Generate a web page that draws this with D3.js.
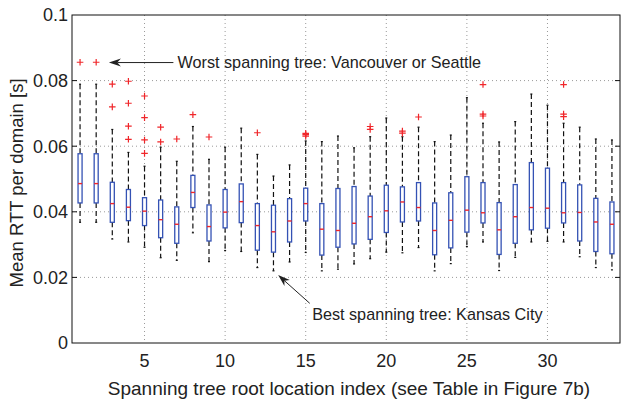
<!DOCTYPE html>
<html>
<head>
<meta charset="utf-8">
<script src="https://cdn.jsdelivr.net/npm/d3@7"></script>
<style>
  body { margin: 0; background: #fff; }
  text { font-family: "Liberation Sans", Arial, sans-serif; fill: #222; }
</style>
</head>
<body>
<div id="chart"></div>
<script>
// root location index 1..34
const rootIndex = d3.range(1, 35);

const whiskerHigh = [0.0789,0.0789,0.0651,0.0581,0.0539,0.0597,0.0554,0.0660,0.0560,0.0597,0.0655,0.0575,0.0509,0.0543,0.0616,0.0614,0.0631,0.0595,0.0629,0.0686,0.0629,0.0658,0.0614,0.0634,0.0748,0.0670,0.0613,0.0675,0.0759,0.0725,0.0670,0.0658,0.0622,0.0619];
const q3 = [0.0577,0.0577,0.0490,0.0468,0.0443,0.0436,0.0415,0.0511,0.0421,0.0468,0.0485,0.0425,0.0420,0.0440,0.0472,0.0425,0.0471,0.0477,0.0448,0.0481,0.0476,0.0489,0.0427,0.0458,0.0507,0.0489,0.0428,0.0483,0.0550,0.0533,0.0489,0.0482,0.0441,0.0430];
const median = [0.0486,0.0486,0.0425,0.0414,0.0402,0.0376,0.0362,0.0459,0.0355,0.0399,0.0431,0.0358,0.0339,0.0372,0.0425,0.0347,0.0343,0.0365,0.0385,0.0403,0.0430,0.0413,0.0343,0.0374,0.0405,0.0397,0.0345,0.0385,0.0413,0.0411,0.0397,0.0398,0.0369,0.0362];
const q1 = [0.0427,0.0427,0.0368,0.0373,0.0358,0.0321,0.0304,0.0413,0.0311,0.0351,0.0367,0.0283,0.0277,0.0308,0.0372,0.0268,0.0292,0.0302,0.0316,0.0337,0.0369,0.0372,0.0269,0.0290,0.0338,0.0366,0.0270,0.0304,0.0345,0.0350,0.0366,0.0311,0.0279,0.0272];
const whiskerLow = [0.0368,0.0368,0.0317,0.0308,0.0292,0.0260,0.0252,0.0336,0.0248,0.0282,0.0279,0.0230,0.0220,0.0247,0.0276,0.0220,0.0225,0.0241,0.0257,0.0277,0.0275,0.0291,0.0220,0.0242,0.0294,0.0308,0.0221,0.0261,0.0308,0.0310,0.0308,0.0263,0.0230,0.0223];
const outliers = [
    [0.0856], [0.0856], [0.0789, 0.0720], [0.0798, 0.0731, 0.0661, 0.0621],
    [0.0753, 0.0687, 0.0619, 0.0578], [0.0658, 0.0613], [0.0622], [0.0696],
    [0.0628], [], [], [0.0641], [], [], [0.0639, 0.0635, 0.0631], [], [], [],
    [0.0660, 0.0651], [], [0.0646, 0.0640], [0.0689], [], [], [],
    [0.0788, 0.0698, 0.0692], [], [], [], [], [0.0788, 0.0698, 0.0690], [], [], []
];

const xTicks = [5, 10, 15, 20, 25, 30];
const yTicks = [0, 0.02, 0.04, 0.06, 0.08, 0.1];

const W = 621, H = 399;
const margin = { top: 15, right: 1, bottom: 56, left: 72 };
const width = W - margin.left - margin.right,
    height = H - margin.top - margin.bottom;

const svg = d3.select("#chart").append("svg")
    .attr("width", W)
    .attr("height", H);

const g = svg.append("g")
    .attr("transform", "translate(" + margin.left + "," + margin.top + ")");

const x = d3.scaleLinear().domain([0.5, 34.5]).range([0, width]);
const y = d3.scaleLinear().domain([0, 0.1]).range([height, 0]);

const boxW = x(1.25) - x(1),
    capW = boxW * 0.5;

// grid
g.append("g").selectAll("line")
    .data(xTicks).enter().append("line")
    .attr("x1", d => x(d)).attr("x2", d => x(d))
    .attr("y1", 0).attr("y2", height)
    .attr("stroke", "#9a9a9a").attr("stroke-width", 1)
    .attr("stroke-dasharray", "1,3");
g.append("g").selectAll("line")
    .data(yTicks.slice(1, -1)).enter().append("line")
    .attr("x1", 0).attr("x2", width)
    .attr("y1", d => y(d)).attr("y2", d => y(d))
    .attr("stroke", "#9a9a9a").attr("stroke-width", 1)
    .attr("stroke-dasharray", "1,3");

// boxes
const boxes = rootIndex.map((k, i) => ({
    k: k, hi: whiskerHigh[i], q3: q3[i], med: median[i], q1: q1[i], lo: whiskerLow[i], out: outliers[i]
}));

const node = g.selectAll(".box")
    .data(boxes).enter().append("g")
    .attr("class", "box")
    .attr("transform", d => "translate(" + x(d.k) + ",0)");

// whiskers
node.append("line")
    .attr("y1", d => y(d.hi)).attr("y2", d => y(d.q3))
    .attr("stroke", "#111").attr("stroke-width", 1.2)
    .attr("stroke-dasharray", "5,3");
node.append("line")
    .attr("y1", d => y(d.q1)).attr("y2", d => y(d.lo))
    .attr("stroke", "#111").attr("stroke-width", 1.2)
    .attr("stroke-dasharray", "5,3");
node.append("line")
    .attr("x1", -capW / 2).attr("x2", capW / 2)
    .attr("y1", d => y(d.hi)).attr("y2", d => y(d.hi))
    .attr("stroke", "#111").attr("stroke-width", 1.2);
node.append("line")
    .attr("x1", -capW / 2).attr("x2", capW / 2)
    .attr("y1", d => y(d.lo)).attr("y2", d => y(d.lo))
    .attr("stroke", "#111").attr("stroke-width", 1.2);

node.append("rect")
    .attr("x", -boxW / 2)
    .attr("width", boxW)
    .attr("y", d => y(d.q3))
    .attr("height", d => y(d.q1) - y(d.q3))
    .attr("fill", "#fff")
    .attr("stroke", "#3452b4").attr("stroke-width", 1.3);

node.append("line")
    .attr("x1", -boxW / 2).attr("x2", boxW / 2)
    .attr("y1", d => y(d.med)).attr("y2", d => y(d.med))
    .attr("stroke", "#f0262a").attr("stroke-width", 1.4);

// outliers as red plus signs
node.selectAll(".out")
    .data(d => d.out).enter().append("path")
    .attr("class", "out")
    .attr("d", v => "M-3.3," + y(v) + "h6.6M0," + (y(v) - 3.3) + "v6.6")
    .attr("stroke", "#f0262a").attr("stroke-width", 1.2)
    .attr("fill", "none");

// frame
g.append("rect")
    .attr("width", width).attr("height", height)
    .attr("fill", "none").attr("stroke", "#111").attr("stroke-width", 1);

// ticks (inward)
g.append("g").selectAll("line")
    .data(yTicks.slice(1, -1)).enter().append("line")
    .attr("x1", 0).attr("x2", 5)
    .attr("y1", d => y(d)).attr("y2", d => y(d))
    .attr("stroke", "#111");
g.append("g").selectAll("line")
    .data(yTicks.slice(1, -1)).enter().append("line")
    .attr("x1", width - 5).attr("x2", width)
    .attr("y1", d => y(d)).attr("y2", d => y(d))
    .attr("stroke", "#111");

// tick labels
g.append("g").selectAll("text")
    .data(yTicks).enter().append("text")
    .attr("x", -4)
    .attr("y", d => y(d))
    .attr("dy", "0.35em")
    .attr("text-anchor", "end")
    .style("font-size", "18px")
    .text(d => d3.format("")(d));
g.append("g").selectAll("text")
    .data(xTicks).enter().append("text")
    .attr("x", d => x(d))
    .attr("y", height + 24)
    .attr("text-anchor", "middle")
    .style("font-size", "18px")
    .text(d => d);

// axis titles
g.append("text")
    .attr("x", x(17.25) + 7)
    .attr("y", height + 52)
    .attr("text-anchor", "middle")
    .style("font-size", "19px")
    .text("Spanning tree root location index (see Table in Figure 7b)");
g.append("text")
    .attr("transform", "translate(" + (-49) + "," + (height / 2 + 4) + ")rotate(-90)")
    .attr("text-anchor", "middle")
    .style("font-size", "18.5px")
    .text("Mean RTT per domain [s]");

// annotations
function arrow(x0, y0, x1, y1) {
    const a = Math.atan2(y1 - y0, x1 - x0), L = 12, Wd = 4;
    const bx = x1 - L * Math.cos(a), by = y1 - L * Math.sin(a);
    const nx = -Math.sin(a), ny = Math.cos(a);
    const mx = x1 - L * 0.7 * Math.cos(a), my = y1 - L * 0.7 * Math.sin(a);
    g.append("line")
        .attr("x1", x0).attr("y1", y0).attr("x2", mx).attr("y2", my)
        .attr("stroke", "#222").attr("stroke-width", 1);
    g.append("path")
        .attr("d", "M" + x1 + "," + y1 + "L" + (bx + nx * Wd) + "," + (by + ny * Wd) +
            "L" + mx + "," + my + "L" + (bx - nx * Wd) + "," + (by - ny * Wd) + "Z")
        .attr("fill", "#222");
}

arrow(x(6.79), y(0.0855), x(2.79), y(0.0855));
g.append("text")
    .attr("x", x(7.05)).attr("y", y(0.0855))
    .attr("dy", "0.35em")
    .style("font-size", "16.2px")
    .text("Worst spanning tree: Vancouver or Seattle");

arrow(x(15.25), y(0.0121), x(13.29), y(0.0207));
g.append("text")
    .attr("x", x(15.4)).attr("y", y(0.0088))
    .attr("dy", "0.35em")
    .style("font-size", "16.2px")
    .text("Best spanning tree: Kansas City");
</script>
</body>
</html>
